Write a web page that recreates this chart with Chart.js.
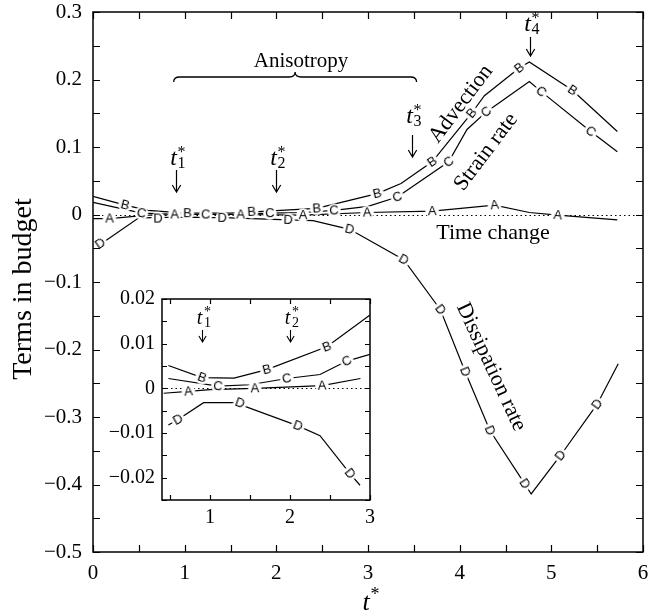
<!DOCTYPE html>
<html><head><meta charset="utf-8">
<script src="https://cdn.jsdelivr.net/npm/chart.js@4/dist/chart.umd.min.js"></script>
<style>
html,body{margin:0;padding:0;background:#fff;}
#wrap{position:relative;width:651px;height:616px;overflow:hidden;}
#main{position:absolute;left:0;top:0;}
#inset{position:absolute;left:95px;top:285px;}
</style></head><body>
<div id="wrap"><canvas id="main" width="651" height="616"></canvas><canvas id="inset" width="285" height="250"></canvas></div>
<script>
// ---------- tick labels ----------
const xTickLabels = [0, 1, 2, 3, 4, 5, 6];
const yTickLabels = [0.3, 0.2, 0.1, 0, -0.1, -0.2, -0.3, -0.4, -0.5];
const insetXTickLabels = [1, 2, 3];
const insetYTickLabels = [0.02, 0.01, 0, -0.01, -0.02];
const tStarMain = [0.91, 2.0, 3.48, 4.77];
const tStarInset = [0.9, 2.0];

// ---------- main plot: A = time change ----------
const aX = [0.0, 0.18, 0.6, 1.0, 1.6, 2.29, 2.99, 3.7, 4.38, 4.76, 5.07, 5.72];
const aY = [-0.006, -0.006, -0.001, 0.0, 0.0, -0.001, 0.003, 0.005, 0.014, 0.003, -0.001, -0.008];
const aMarkX = [0.18, 0.89, 1.61, 2.29, 2.99, 3.70, 4.38, 5.07];
const aMarkY = [-0.006, 0.0, 0.0, -0.001, 0.003, 0.005, 0.014, -0.001];
// B = advection
const bX = [0.0, 0.35, 0.6, 1.0, 1.5, 1.9, 2.44, 3.1, 3.36, 3.7, 4.13, 4.27, 4.65, 4.76, 5.23, 5.72];
const bY = [0.027, 0.014, 0.006, 0.002, 0.002, 0.005, 0.009, 0.031, 0.046, 0.078, 0.150, 0.176, 0.217, 0.226, 0.184, 0.123];
const bMarkX = [0.35, 1.03, 1.73, 2.44, 3.1, 3.7, 4.13, 4.65, 5.23];
const bMarkY = [0.014, 0.002, 0.004, 0.009, 0.031, 0.078, 0.150, 0.217, 0.184];
// C = strain rate
const cX = [0.0, 0.53, 1.0, 1.5, 1.93, 2.3, 2.63, 3.0, 3.32, 3.88, 4.08, 4.29, 4.76, 4.89, 5.43, 5.72];
const cY = [0.018, 0.002, 0.0, 0.0, 0.002, 0.003, 0.006, 0.012, 0.026, 0.078, 0.126, 0.152, 0.197, 0.182, 0.123, 0.093];
const cMarkX = [0.53, 1.23, 1.93, 2.63, 3.32, 3.88, 4.29, 4.89, 5.43];
const cMarkY = [0.002, 0.0, 0.002, 0.006, 0.026, 0.078, 0.152, 0.182, 0.123];
// D = dissipation rate
const dX = [0.05, 0.5, 1.0, 1.5, 2.13, 2.4, 2.8, 3.39, 3.79, 4.06, 4.33, 4.71, 4.78, 5.1, 5.5, 5.73];
const dY = [-0.047, -0.005, -0.004, -0.005, -0.008, -0.009, -0.022, -0.067, -0.141, -0.233, -0.320, -0.399, -0.414, -0.357, -0.281, -0.221];
const dMarkX = [0.08, 0.71, 1.41, 2.13, 2.8, 3.39, 3.79, 4.06, 4.33, 4.71, 5.1, 5.5];
const dMarkY = [-0.043, -0.006, -0.005, -0.008, -0.022, -0.067, -0.141, -0.233, -0.320, -0.399, -0.357, -0.281];

// ---------- inset ----------
const iaX = [0.42, 0.73, 1.0, 1.56, 2.40, 2.88];
const iaY = [-0.0011, -0.0007, -0.0003, 0.0, 0.0006, 0.0022];
const iaMarkX = [0.73, 1.56, 2.40];
const iaMarkY = [-0.0007, 0.0, 0.0006];
const ibX = [0.48, 0.9, 1.3, 1.71, 2.46, 3.0];
const ibY = [0.0051, 0.0024, 0.0023, 0.0042, 0.0093, 0.0164];
const ibMarkX = [0.9, 1.71, 2.46];
const ibMarkY = [0.0024, 0.0042, 0.0093];
const icX = [0.48, 1.10, 1.5, 1.96, 2.375, 2.71, 3.0];
const icY = [0.0022, 0.0005, 0.0008, 0.0022, 0.0031, 0.0061, 0.0076];
const icMarkX = [1.10, 1.96, 2.71];
const icMarkY = [0.0005, 0.0022, 0.0061];
const idX = [0.48, 0.6, 0.92, 1.31, 2.10, 2.375, 2.75, 2.875];
const idY = [-0.0082, -0.007, -0.0032, -0.0032, -0.0084, -0.0106, -0.0191, -0.0217];
const idMarkX = [0.6, 1.375, 2.10, 2.75];
const idMarkY = [-0.007, -0.0033, -0.0084, -0.0191];

// ---------- helpers ----------
const SERIF = '"Liberation Serif", "Times New Roman", serif';
const pts = (xs, ys) => xs.map((x, i) => ({x, y: ys[i]}));
function letterCanvas(ch) {
  const c = document.createElement('canvas'); c.width = 16; c.height = 16;
  const g = c.getContext('2d');
  g.fillStyle = '#fff'; g.beginPath(); g.arc(8, 8, 6.8, 0, Math.PI * 2); g.fill();
  g.fillStyle = '#000'; g.font = '13px "Liberation Sans", sans-serif';
  g.textAlign = 'center'; g.textBaseline = 'middle'; g.fillText(ch, 8, 8.5);
  return c;
}
function slopeRot(lx, ly) {
  return ctx => {
    const v = ctx.raw; if (!v || v.x === undefined) return 0;
    const xs = ctx.chart.scales.x, ys = ctx.chart.scales.y;
    let i = 0; while (i < lx.length - 2 && lx[i + 1] < v.x) i++;
    const dx = xs.getPixelForValue(lx[i + 1]) - xs.getPixelForValue(lx[i]);
    const dy = ys.getPixelForValue(ly[i + 1]) - ys.getPixelForValue(ly[i]);
    return Math.atan2(dy, dx) * 180 / Math.PI;
  };
}
const lineDS = (xs, ys) => ({data: pts(xs, ys), borderColor: '#000', borderWidth: 1.2, pointRadius: 0, tension: 0, fill: false, order: 2});
const markDS = (xs, ys, ch, lx, ly) => ({data: pts(xs, ys), showLine: false, pointStyle: letterCanvas(ch), pointRadius: 7, pointRotation: slopeRot(lx, ly), order: 1});
const fmt = v => { const r = Math.round(v * 1000) / 1000; return r < 0 ? '\u2212' + Math.abs(r) : String(r); };
const noPadX = s => { s.paddingLeft = 0; s.paddingRight = 0; };
const noPadY = s => { s.paddingTop = 0; s.paddingBottom = 0; };

function frameTicks(chart, xStep, yStep, len) {
  const c = chart.ctx, a = chart.chartArea, xs = chart.scales.x, ys = chart.scales.y;
  c.save(); c.strokeStyle = '#000'; c.lineWidth = 1.2;
  for (let v = Math.ceil(xs.min / xStep - 1e-9) * xStep; v <= xs.max + 1e-9; v += xStep) {
    const p = Math.round(xs.getPixelForValue(v)) + 0.5;
    c.beginPath(); c.moveTo(p, a.bottom); c.lineTo(p, a.bottom - len); c.moveTo(p, a.top); c.lineTo(p, a.top + len); c.stroke();
  }
  for (let v = Math.ceil(ys.min / yStep - 1e-9) * yStep; v <= ys.max + 1e-9; v += yStep) {
    const p = Math.round(ys.getPixelForValue(v)) + 0.5;
    c.beginPath(); c.moveTo(a.left, p); c.lineTo(a.left + len, p); c.moveTo(a.right, p); c.lineTo(a.right - len, p); c.stroke();
  }
  c.lineWidth = 1.5; c.strokeRect(a.left, a.top, a.right - a.left, a.bottom - a.top);
  c.restore();
}
function zeroLine(chart) {
  const c = chart.ctx, a = chart.chartArea, p = Math.round(chart.scales.y.getPixelForValue(0)) + 0.5;
  c.save(); c.strokeStyle = '#000'; c.lineWidth = 1; c.setLineDash([1.5, 3]);
  c.beginPath(); c.moveTo(a.left, p); c.lineTo(a.right, p); c.stroke(); c.restore();
}
function arrow(c, x, y0, y1, h) {
  c.beginPath(); c.moveTo(x, y0); c.lineTo(x, y1);
  c.moveTo(x - h * 0.6, y1 - h); c.lineTo(x, y1); c.lineTo(x + h * 0.6, y1 - h); c.stroke();
}
function tLabel(c, x, base, sub, size) {
  c.textAlign = 'center'; c.textBaseline = 'alphabetic';
  c.font = 'italic ' + size + 'px ' + SERIF; c.fillText('t', x - 3, base);
  c.font = Math.round(size * 0.68) + 'px ' + SERIF; c.fillText(sub, x + 5, base + 3);
  c.fillText('*', x + 5, base - 8);
}
function rotText(c, txt, x, y, deg, size) {
  c.save(); c.translate(x, y); c.rotate(deg * Math.PI / 180);
  c.font = size + 'px ' + SERIF; c.textAlign = 'center'; c.textBaseline = 'middle';
  c.fillText(txt, 0, 0); c.restore();
}

// ---------- main chart ----------
const mainDeco = {
  id: 'mainDeco',
  beforeDatasetsDraw(chart) { zeroLine(chart); },
  afterDraw(chart) {
    frameTicks(chart, 0.5, 0.05, 7);
    const c = chart.ctx, xs = chart.scales.x;
    c.save(); c.fillStyle = '#000'; c.strokeStyle = '#000'; c.lineWidth = 1.2;
    const tBase = [165, 165, 123, 31], tA0 = [170, 170, 135, 37], tA1 = [192, 192, 157, 56];
    tStarMain.forEach((t, i) => {
      const px = Math.round(xs.getPixelForValue(t)) + 0.5;
      tLabel(c, px, tBase[i], String(i + 1), 24);
      arrow(c, px, tA0[i], tA1[i], 7);
    });
    const bl = xs.getPixelForValue(0.88), br = xs.getPixelForValue(3.53), bm = (bl + br) / 2;
    c.lineWidth = 1.3;
    c.beginPath(); c.moveTo(bl, 82); c.quadraticCurveTo(bl, 77, bl + 6, 77); c.lineTo(bm - 6, 77);
    c.quadraticCurveTo(bm, 77, bm, 72); c.quadraticCurveTo(bm, 77, bm + 6, 77);
    c.lineTo(br - 6, 77); c.quadraticCurveTo(br, 77, br, 82); c.stroke();
    rotText(c, 'Anisotropy', 301, 61, 0, 21);
    rotText(c, 'Advection', 461, 104, -53, 22);
    rotText(c, 'Strain rate', 486, 152, -53, 22);
    rotText(c, 'Time change', 493, 233, 0, 22);
    rotText(c, 'Dissipation rate', 491, 367, 65, 22);
    rotText(c, 'Terms in budget', 24, 289, -90, 28);
    c.font = 'italic 26px ' + SERIF; c.textAlign = 'center'; c.textBaseline = 'alphabetic';
    c.fillText('t', 366, 610);
    c.font = '18px ' + SERIF; c.fillText('*', 375, 600);
    c.restore();
  }
};

new Chart(document.getElementById('main'), {
  type: 'line',
  data: {datasets: [
    lineDS(aX, aY), lineDS(bX, bY), lineDS(cX, cY), lineDS(dX, dY),
    markDS(aMarkX, aMarkY, 'A', aX, aY), markDS(bMarkX, bMarkY, 'B', bX, bY),
    markDS(cMarkX, cMarkY, 'C', cX, cY), markDS(dMarkX, dMarkY, 'D', dX, dY)
  ]},
  options: {
    responsive: false, animation: false, events: [],
    layout: {padding: {left: 0, right: 2, top: 12, bottom: 0}},
    plugins: {legend: {display: false}, tooltip: {enabled: false}},
    scales: {
      x: {type: 'linear', min: 0, max: 6,
        afterBuildTicks: s => { s.ticks = xTickLabels.map(v => ({value: v})); },
        afterFit: s => { s.height = 64; noPadX(s); },
        grid: {display: false, drawTicks: false}, border: {display: false},
        ticks: {color: '#000', padding: 9, maxRotation: 0, autoSkip: false, font: {family: SERIF, size: 21}, callback: fmt}},
      y: {type: 'linear', min: -0.5, max: 0.3,
        afterBuildTicks: s => { s.ticks = yTickLabels.map(v => ({value: v})); },
        afterFit: s => { s.width = 93; noPadY(s); },
        grid: {display: false, drawTicks: false}, border: {display: false},
        ticks: {color: '#000', padding: 11, autoSkip: false, font: {family: SERIF, size: 21}, callback: fmt}}
    }
  },
  plugins: [mainDeco]
});

// ---------- inset chart ----------
const insetDeco = {
  id: 'insetDeco',
  beforeDraw(chart) {
    const c = chart.ctx, a = chart.chartArea;
    c.save(); c.fillStyle = '#fff'; c.fillRect(a.left, a.top, a.right - a.left, a.bottom - a.top); c.restore();
  },
  beforeDatasetsDraw(chart) { zeroLine(chart); },
  afterDraw(chart) {
    frameTicks(chart, 0.5, 0.005, 5);
    const c = chart.ctx, xs = chart.scales.x;
    c.save(); c.fillStyle = '#000'; c.strokeStyle = '#000'; c.lineWidth = 1.1;
    tStarInset.forEach((t, i) => {
      const px = Math.round(xs.getPixelForValue(t)) + 0.5;
      tLabel(c, px, 39, String(i + 1), 20);
      arrow(c, px, 45, 57, 6);
    });
    c.restore();
  }
};

new Chart(document.getElementById('inset'), {
  type: 'line',
  data: {datasets: [
    lineDS(iaX, iaY), lineDS(ibX, ibY), lineDS(icX, icY), lineDS(idX, idY),
    markDS(iaMarkX, iaMarkY, 'A', iaX, iaY), markDS(ibMarkX, ibMarkY, 'B', ibX, ibY),
    markDS(icMarkX, icMarkY, 'C', icX, icY), markDS(idMarkX, idMarkY, 'D', idX, idY)
  ]},
  options: {
    responsive: false, animation: false, events: [],
    layout: {padding: {left: 0, right: 10, top: 14, bottom: 0}},
    plugins: {legend: {display: false}, tooltip: {enabled: false}},
    scales: {
      x: {type: 'linear', min: 0.4, max: 3.0,
        afterBuildTicks: s => { s.ticks = insetXTickLabels.map(v => ({value: v})); },
        afterFit: s => { s.height = 35; noPadX(s); },
        grid: {display: false, drawTicks: false}, border: {display: false},
        ticks: {color: '#000', padding: 6, maxRotation: 0, autoSkip: false, font: {family: SERIF, size: 20}, callback: fmt}},
      y: {type: 'linear', min: -0.025, max: 0.02,
        afterBuildTicks: s => { s.ticks = insetYTickLabels.map(v => ({value: v})); },
        afterFit: s => { s.width = 67; noPadY(s); },
        grid: {display: false, drawTicks: false}, border: {display: false},
        ticks: {color: '#000', padding: 7, autoSkip: false, font: {family: SERIF, size: 20}, callback: fmt}}
    }
  },
  plugins: [insetDeco]
});
</script>
</body></html>
